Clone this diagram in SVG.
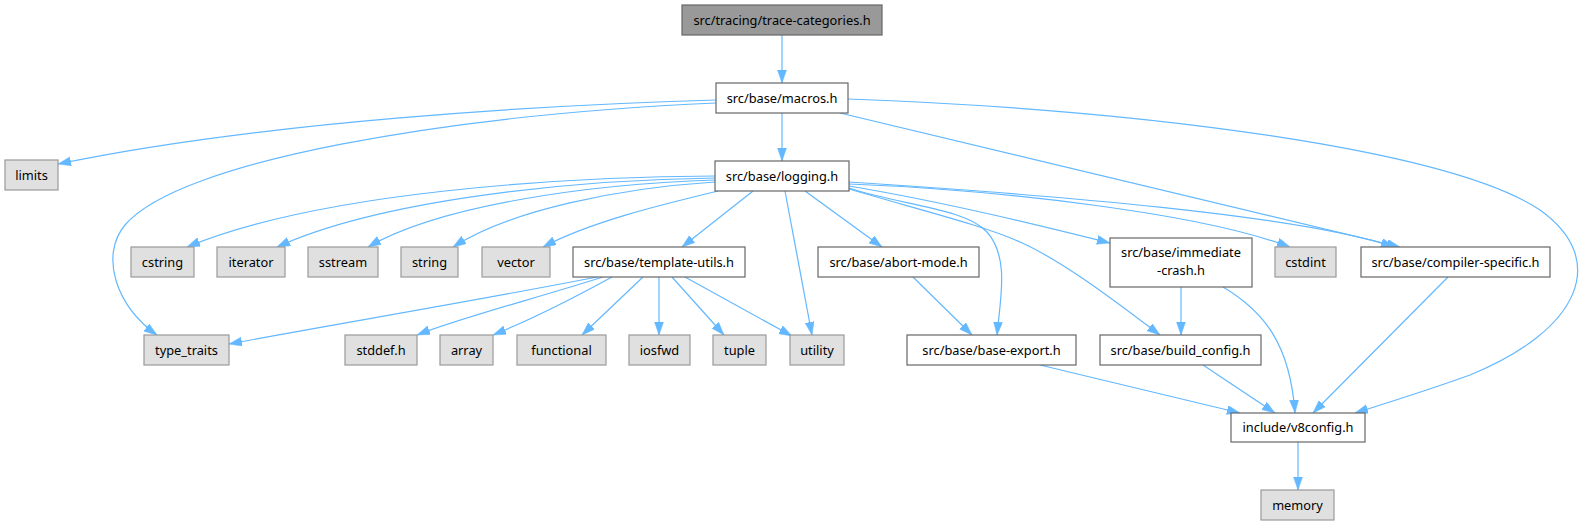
<svg xmlns="http://www.w3.org/2000/svg" width="1590" height="525" viewBox="0 0 1590 525">
<style>
text{font-family:"Noto Sans","DejaVu Sans",sans-serif;font-size:12.8px;fill:#000;text-anchor:middle}
.n rect{fill:#fff;stroke:#666;stroke-width:1.2}
.g rect{fill:#e0e0e0;stroke:#999;stroke-width:1.2}
.r rect{fill:#999;stroke:#666;stroke-width:1.2}
#edges path{fill:none;stroke:#63b8ff;stroke-width:1.2;marker-end:url(#ah)}
</style>
<defs>
<marker id="ah" markerUnits="userSpaceOnUse" markerWidth="14" markerHeight="10" refX="13" refY="4.5" orient="auto">
<path d="M0,0 L13,4.5 L0,9 z" fill="#63b8ff" stroke="#63b8ff" stroke-width="0.5"/>
</marker>
</defs>
<rect width="1590" height="525" fill="#fff"/>
<g id="edges">
<path d="M782,35 L782,83"/>
<path d="M782,113 L782,161"/>
<path d="M716,100 C 540,105 260,122 58,164"/>
<path d="M716,103 C 450,115 180,160 125,225 C 100,255 115,305 157,335"/>
<path d="M840,113 L1400,247"/>
<path d="M848,99 C 1150,110 1450,150 1540,210 C 1610,260 1580,330 1470,375 C 1420,393 1380,405 1355,413"/>
<path d="M715,176 C 560,177 320,192 187,247"/>
<path d="M715,178 C 570,180 380,200 277,247"/>
<path d="M715,180 C 590,184 440,205 368,247"/>
<path d="M715,182 C 620,188 510,210 453,247"/>
<path d="M718,191 C 660,205 590,222 543,247"/>
<path d="M753,191 L682,247"/>
<path d="M785,191 L812,335"/>
<path d="M805,191 L882,247"/>
<path d="M849,188 C 900,205 965,208 987,232 C 1010,258 1000,300 997,335"/>
<path d="M849,189 C 920,210 985,226 1020,242 C 1065,262 1120,305 1160,335"/>
<path d="M849,186 C 950,203 1050,228 1110,243"/>
<path d="M849,184 C 1000,190 1200,213 1290,247"/>
<path d="M849,182 C 1050,195 1300,215 1394,247"/>
<path d="M597,277 C 480,300 330,325 229,344"/>
<path d="M603,277 C 530,300 460,318 417,335"/>
<path d="M612,277 C 570,300 530,320 493,335"/>
<path d="M643,277 L582,335"/>
<path d="M659,277 L659,335"/>
<path d="M672,277 L724,335"/>
<path d="M685,277 L792,336"/>
<path d="M913,277 L972,335"/>
<path d="M1040,365 L1240,413"/>
<path d="M1203,365 L1275,413"/>
<path d="M1223,287 C 1265,312 1290,345 1295,413"/>
<path d="M1448,277 L1313,413"/>
<path d="M1181,287 L1181,335"/>
<path d="M1298,442 L1298,490"/>
</g>
<g id="trace-categories" class="r"><rect x="682" y="5" width="200" height="30"/><text x="782" y="24.5">src/tracing/trace-categories.h</text></g>
<g id="macros" class="n"><rect x="716" y="83" width="132" height="30"/><text x="782" y="102.5">src/base/macros.h</text></g>
<g id="logging" class="n"><rect x="715" y="161" width="134" height="30"/><text x="782" y="180.5">src/base/logging.h</text></g>
<g id="limits" class="g"><rect x="5" y="160" width="53" height="30"/><text x="31.5" y="179.5">limits</text></g>
<g id="cstring" class="g"><rect x="131" y="247" width="63" height="30"/><text x="162.5" y="266.5">cstring</text></g>
<g id="iterator" class="g"><rect x="217" y="247" width="68" height="30"/><text x="251" y="266.5">iterator</text></g>
<g id="sstream" class="g"><rect x="308" y="247" width="70" height="30"/><text x="343" y="266.5">sstream</text></g>
<g id="string" class="g"><rect x="401" y="247" width="57" height="30"/><text x="429.5" y="266.5">string</text></g>
<g id="vector" class="g"><rect x="482" y="247" width="68" height="30"/><text x="516" y="266.5">vector</text></g>
<g id="template-utils" class="n"><rect x="573" y="247" width="172" height="30"/><text x="659" y="266.5">src/base/template-utils.h</text></g>
<g id="abort-mode" class="n"><rect x="818" y="247" width="161" height="30"/><text x="898.5" y="266.5">src/base/abort-mode.h</text></g>
<g id="immediate-crash" class="n"><rect x="1110" y="238" width="142" height="49"/><text x="1181" y="256.5">src/base/immediate</text><text x="1181" y="274.5">-crash.h</text></g>
<g id="cstdint" class="g"><rect x="1275" y="247" width="61" height="30"/><text x="1305.5" y="266.5">cstdint</text></g>
<g id="compiler-specific" class="n"><rect x="1361" y="247" width="189" height="30"/><text x="1455.5" y="266.5">src/base/compiler-specific.h</text></g>
<g id="type_traits" class="g"><rect x="144" y="335" width="85" height="30"/><text x="186.5" y="354.5">type_traits</text></g>
<g id="stddef" class="g"><rect x="345" y="335" width="72" height="30"/><text x="381" y="354.5">stddef.h</text></g>
<g id="array" class="g"><rect x="440" y="335" width="53" height="30"/><text x="466.5" y="354.5">array</text></g>
<g id="functional" class="g"><rect x="517" y="335" width="89" height="30"/><text x="561.5" y="354.5">functional</text></g>
<g id="iosfwd" class="g"><rect x="629" y="335" width="61" height="30"/><text x="659.5" y="354.5">iosfwd</text></g>
<g id="tuple" class="g"><rect x="713" y="335" width="53" height="30"/><text x="739.5" y="354.5">tuple</text></g>
<g id="utility" class="g"><rect x="790" y="335" width="54" height="30"/><text x="817" y="354.5">utility</text></g>
<g id="base-export" class="n"><rect x="907" y="335" width="169" height="30"/><text x="991.5" y="354.5">src/base/base-export.h</text></g>
<g id="build_config" class="n"><rect x="1100" y="335" width="161" height="30"/><text x="1180.5" y="354.5">src/base/build_config.h</text></g>
<g id="v8config" class="n"><rect x="1231" y="413" width="134" height="29"/><text x="1298" y="432">include/v8config.h</text></g>
<g id="memory" class="g"><rect x="1261" y="490" width="73" height="30"/><text x="1297.5" y="509.5">memory</text></g>
</svg>
